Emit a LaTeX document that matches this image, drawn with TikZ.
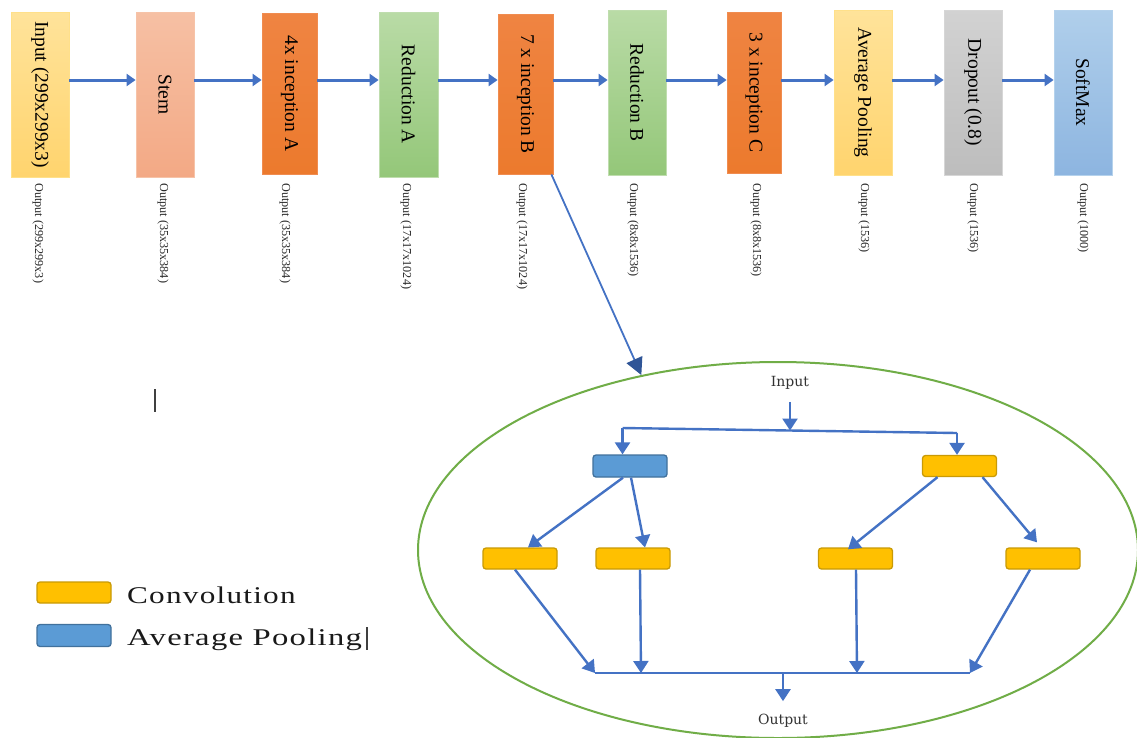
\documentclass[tikz,border=0pt]{standalone}
\usepackage{fontspec}
\setmainfont{Liberation Serif}
\newfontfamily\legfont[LetterSpace=4]{Liberation Serif}
\newfontfamily\inner{DejaVu Serif}
\usetikzlibrary{arrows.meta,shapes.geometric}
\definecolor{arrblue}{HTML}{4472C4}
\definecolor{darkarr}{HTML}{2F5597}
\definecolor{ellgreen}{HTML}{70AD47}
\definecolor{convfill}{HTML}{FFC000}
\definecolor{convdraw}{HTML}{C99A06}
\definecolor{poolfill}{HTML}{5B9BD5}
\definecolor{pooldraw}{HTML}{41719C}
\definecolor{inT}{HTML}{FFE39A}\definecolor{inB}{HTML}{FFD46E}\definecolor{inD}{HTML}{FFE08A}
\definecolor{stT}{HTML}{F6C0A4}\definecolor{stB}{HTML}{F3A985}\definecolor{stD}{HTML}{F6C3A8}
\definecolor{orT}{HTML}{EF8442}\definecolor{orB}{HTML}{EC7A2D}\definecolor{orD}{HTML}{F08C50}
\definecolor{grT}{HTML}{B9DBA6}\definecolor{grB}{HTML}{94C779}\definecolor{grD}{HTML}{BFDDAE}
\definecolor{gyT}{HTML}{D2D2D2}\definecolor{gyB}{HTML}{BDBDBD}\definecolor{gyD}{HTML}{D6D6D6}
\definecolor{smT}{HTML}{B0CFEB}\definecolor{smB}{HTML}{8DB5E0}\definecolor{smD}{HTML}{B5D2EC}
\tikzset{
  blk/.style={minimum width=58pt, minimum height=165pt, inner sep=0pt, line width=0.8pt,
    font=\fontsize{19.5}{21}\selectfont, text=black},
  inbox/.style={blk, top color=inT, bottom color=inB, draw=inD},
  stembox/.style={blk, top color=stT, bottom color=stB, draw=stD},
  orbox/.style={blk, minimum width=55pt, minimum height=161pt, top color=orT, bottom color=orB, draw=orD},
  grbox/.style={blk, top color=grT, bottom color=grB, draw=grD},
  apbox/.style={blk, top color=inT, bottom color=inB, draw=inD},
  grybox/.style={blk, top color=gyT, bottom color=gyB, draw=gyD},
  smbox/.style={blk, top color=smT, bottom color=smB, draw=smD},
  olab/.style={anchor=north, inner sep=0pt, font=\fontsize{12.2}{13}\selectfont, text=black!85},
  arr/.style={draw=arrblue, line width=3pt, -{Triangle[length=9pt,width=12pt]}},
  bigarr/.style={draw=arrblue, line width=1.8pt, -{Triangle[length=17pt,width=17pt,color=darkarr]}},
  sarr/.style={draw=arrblue, line width=2.4pt, -{Triangle[length=12pt,width=15pt]}},
  sline/.style={draw=arrblue, line width=2.4pt},
  conv/.style={draw=convdraw, fill=convfill, line width=1.3pt, rounded corners=3pt, minimum width=74pt, minimum height=21pt, inner sep=0pt},
  pool/.style={draw=pooldraw, fill=poolfill, line width=1.3pt, rounded corners=3pt, minimum width=74pt, minimum height=22pt, inner sep=0pt},
  itext/.style={inner sep=0pt, font=\inner\fontsize{14}{15}\selectfont, text=black!80},
  legtext/.style={anchor=base west, inner sep=0pt, font=\legfont\fontsize{24}{26}\selectfont, text=black!90},
  cursor/.style={draw=black!75, line width=1.8pt},
}
\begin{document}
\begin{tikzpicture}[x=1pt,y=-1pt]
\useasboundingbox[fill=white] (0,0) rectangle (1137,737);

% top row blocks
\node[inbox]   (b1)  at (40,94.5)   {\rotatebox{-90}{Input (299x299x3)}};
\node[stembox] (b2)  at (165,94.5)  {\rotatebox{-90}{Stem}};
\node[orbox]   (b3)  at (289.5,93.5){\rotatebox{-90}{4x inception A}};
\node[grbox, minimum width=59pt] (b4) at (408.5,94.5) {\rotatebox{-90}{Reduction A}};
\node[orbox, minimum height=160pt] (b5) at (525.5,94) {\rotatebox{-90}{7 x inception B}};
\node[grbox]   (b6)  at (637,92.5)  {\rotatebox{-90}{Reduction B}};
\node[orbox, minimum width=54pt] (b7) at (754,92.5) {\rotatebox{-90}{3 x inception C}};
\node[apbox]   (b8)  at (863,92.5)  {\rotatebox{-90}{Average Pooling}};
\node[grybox]  (b9)  at (973,92.5)  {\rotatebox{-90}{Dropout (0.8)}};
\node[smbox]   (b10) at (1083,92.5) {\rotatebox{-90}{SoftMax}};

% output labels
\node[olab] (l1)  at (38,183)   {\rotatebox{-90}{Output (299x299x3)}};
\node[olab] (l2)  at (163,183)  {\rotatebox{-90}{Output (35x35x384)}};
\node[olab] (l3)  at (285,183)  {\rotatebox{-90}{Output (35x35x384)}};
\node[olab] (l4)  at (406,183)  {\rotatebox{-90}{Output (17x17x1024)}};
\node[olab] (l5)  at (522,183)  {\rotatebox{-90}{Output (17x17x1024)}};
\node[olab] (l6)  at (633,183)  {\rotatebox{-90}{Output (8x8x1536)}};
\node[olab] (l7)  at (756,183)  {\rotatebox{-90}{Output (8x8x1536)}};
\node[olab] (l8)  at (864,183)  {\rotatebox{-90}{Output (1536)}};
\node[olab] (l9)  at (973,183)  {\rotatebox{-90}{Output (1536)}};
\node[olab] (l10) at (1083,183) {\rotatebox{-90}{Output (1000)}};

% top arrows
\coordinate (ay) at (0,80);
\draw[arr] (b1.east|-ay) -- (b2.west|-ay);
\draw[arr] (b2.east|-ay) -- (b3.west|-ay);
\draw[arr] (b3.east|-ay) -- (b4.west|-ay);
\draw[arr] (b4.east|-ay) -- (b5.west|-ay);
\draw[arr] (b5.east|-ay) -- (b6.west|-ay);
\draw[arr] (b6.east|-ay) -- (b7.west|-ay);
\draw[arr] (b7.east|-ay) -- (b8.west|-ay);
\draw[arr] (b8.east|-ay) -- (b9.west|-ay);
\draw[arr] (b9.east|-ay) -- (b10.west|-ay);

% ellipse with inception B module
\node[draw=ellgreen, line width=2pt, ellipse, minimum width=720pt, minimum height=376pt, inner sep=0pt] (ell) at (778,550) {};
\draw[bigarr] ([xshift=-2pt]b5.south east) -- (ell.128);

\node[itext] (inp)  at (790,383) {Input};
\node[itext] (outp) at (783,721) {Output};

\node[pool] (pl) at (630,466)   {};
\node[conv] (ct) at (959.5,466) {};
\node[conv] (ca) at (520,558.5) {};
\node[conv] (cb) at (633,558.5) {};
\node[conv] (cc) at (855.5,558.5) {};
\node[conv] (cd) at (1043,558.5) {};

\coordinate (jm) at (790,430.5);
\coordinate (jl) at (622.5,428);
\coordinate (jr) at (957,433);
\draw[sarr] ([yshift=-12pt]inp.south) -- (jm);
\draw[sline] (jl) -- (jr);
\draw[sarr] (jl) -- (jl|-pl.north);
\draw[sarr] (jr) -- (jr|-ct.north);

\draw[sarr] ([xshift=-7pt]pl.south) -- ([xshift=8pt]ca.north);
\draw[sarr] ([xshift=1pt]pl.south) -- ([xshift=12pt]cb.north);
\draw[sarr] ([xshift=-22pt]ct.south) -- ([xshift=-7.5pt,yshift=-2pt]cc.north);
\draw[sarr] ([xshift=23pt]ct.south) -- ([xshift=-6pt,yshift=5pt]cd.north);

\coordinate (bl) at (595,673);
\coordinate (br) at (970,673);
\coordinate (bm) at (783,673);
\coordinate (bb) at (641,673);
\coordinate (bc) at (857,673);
\draw[sline] (bl) -- (br);
\draw[sarr] ([xshift=-5pt]ca.south) -- (bl);
\draw[sarr] ([xshift=7pt]cb.south) -- (bb);
\draw[sarr] ([xshift=0.5pt]cc.south) -- (bc);
\draw[sarr] ([xshift=-13pt]cd.south) -- (br);
\draw[sarr] (bm) -- ([yshift=13pt]outp.north);

% stray cursor mark
\draw[cursor] (155,389) -- (155,412);

% legend
\node[conv] (lg1) at (74,592.5) {};
\node[pool] (lg2) at (74,635.5) {};
\node[legtext] (lt1) at (127,603) {\scalebox{1.3}[1]{Convolution}};
\node[legtext] (lt2) at (127,645) {\scalebox{1.36}[1]{Average Pooling}};
\draw[cursor] (367,627) -- (367,650);
\end{tikzpicture}
\end{document}
